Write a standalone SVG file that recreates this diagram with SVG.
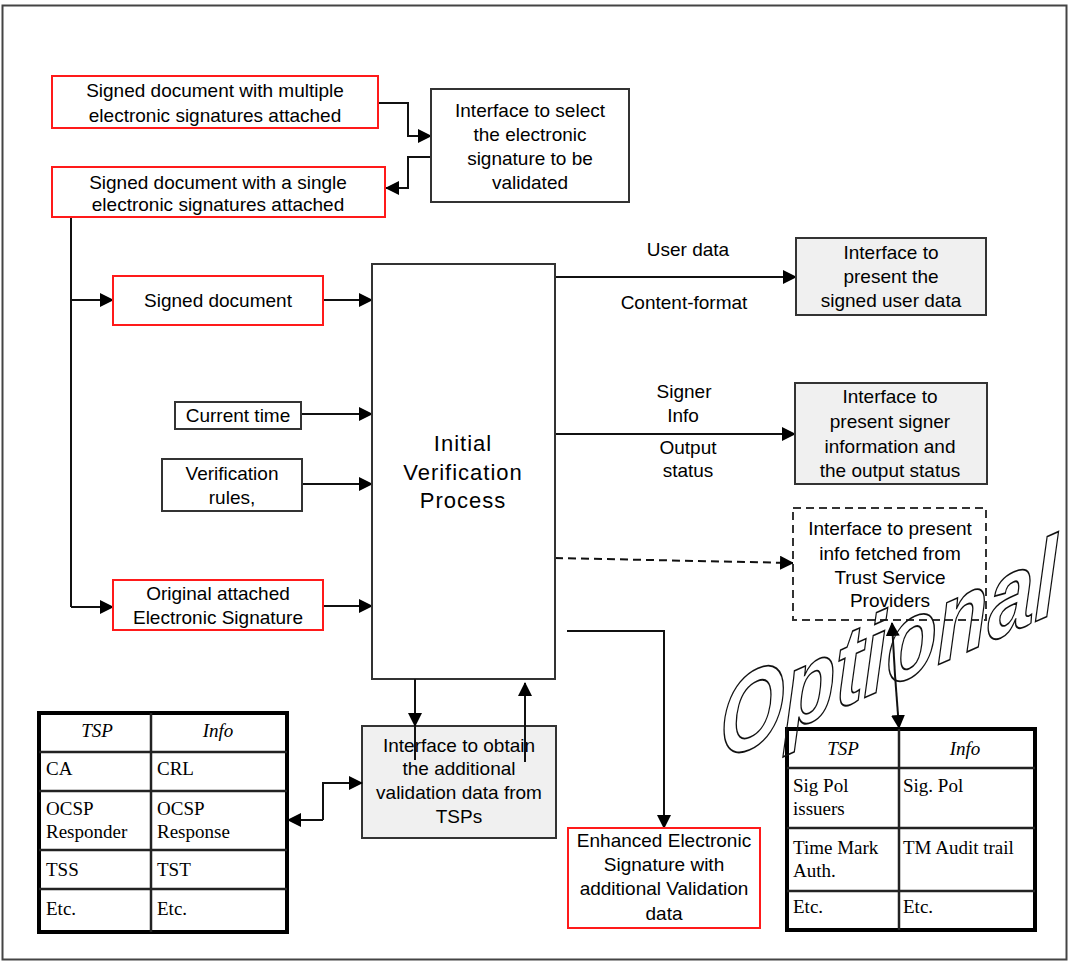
<svg xmlns="http://www.w3.org/2000/svg" width="1070" height="963" viewBox="0 0 1070 963">
<defs>
<marker id="ah" markerUnits="userSpaceOnUse" markerWidth="14" markerHeight="14" refX="13" refY="7" orient="auto-start-reverse" viewBox="0 0 14 14">
<path d="M0,0 L14,7 L0,14 z" fill="#000"/>
</marker>
</defs>
<style>
.t{font-family:"Liberation Sans",Arial,sans-serif;font-size:19px;fill:#000;text-anchor:middle}
.s{font-family:"Liberation Serif","Times New Roman",serif;font-size:19px;fill:#000}
.si{font-family:"Liberation Serif","Times New Roman",serif;font-size:19px;font-style:italic;fill:#000;text-anchor:middle}
.red{fill:#fff;stroke:#ff1a1a;stroke-width:2}
.blk{fill:#fff;stroke:#333;stroke-width:2}
.gry{fill:#f0f0f0;stroke:#333;stroke-width:2}
.dsh{fill:#fff;stroke:#333;stroke-width:2;stroke-dasharray:8 5}
.c{fill:none;stroke:#111;stroke-width:2}
.ca{fill:none;stroke:#111;stroke-width:2;marker-end:url(#ah)}
.cd{fill:none;stroke:#111;stroke-width:2;stroke-dasharray:8 5}
.tb{fill:#fff;stroke:#000;stroke-width:4}
.tl{stroke:#222;stroke-width:2.5}
</style>
<rect x="2.5" y="5.5" width="1064" height="954" fill="#fff" stroke="#444" stroke-width="2"/>

<g id="connectors">
<polyline class="ca" points="378,103 408,103 408,136 431,136"/>
<polyline class="ca" points="431,157 408,157 408,188 386,188"/>
<line class="c" x1="71" y1="217" x2="71" y2="607"/>
<line class="ca" x1="71" y1="300" x2="113" y2="300"/>
<line class="ca" x1="71" y1="607" x2="113" y2="607"/>
<line class="ca" x1="323" y1="300" x2="372" y2="300"/>
<line class="ca" x1="301" y1="414" x2="372" y2="414"/>
<line class="ca" x1="302" y1="484" x2="372" y2="484"/>
<line class="ca" x1="323" y1="606" x2="372" y2="606"/>
<line class="ca" x1="555" y1="277" x2="796" y2="277"/>
<line class="ca" x1="555" y1="434" x2="795" y2="434"/>
<line class="ca" x1="555" y1="558" x2="793" y2="563" style="stroke-dasharray:8 5"/>
<polyline class="cd" points="555,632 525,632 525,670"/>
<polyline class="ca" points="567,631 664,631 664,828"/>
</g>

<g id="n-multi"><rect class="red" x="52" y="76" width="326" height="52"/><text class="t" x="215" y="97">Signed document with multiple</text><text class="t" x="215" y="122">electronic signatures attached</text></g>
<g id="n-single"><rect class="red" x="52" y="167" width="333" height="50"/><text class="t" x="218" y="189">Signed document with a single</text><text class="t" x="218" y="211">electronic signatures attached</text></g>
<g id="n-select"><rect class="blk" x="431" y="89" width="198" height="113"/><text class="t" x="530" y="117">Interface to select</text><text class="t" x="530" y="141">the electronic</text><text class="t" x="530" y="165">signature to be</text><text class="t" x="530" y="189">validated</text></g>
<g id="n-signeddoc"><rect class="red" x="113" y="276" width="210" height="49"/><text class="t" x="218" y="307">Signed document</text></g>
<g id="n-time"><rect class="blk" x="175" y="402" width="126" height="27"/><text class="t" x="238" y="422">Current time</text></g>
<g id="n-rules"><rect class="blk" x="162" y="459" width="140" height="52"/><text class="t" x="232" y="480">Verification</text><text class="t" x="232" y="504">rules,</text></g>
<g id="n-orig"><rect class="red" x="113" y="580" width="210" height="50"/><text class="t" x="218" y="600">Original attached</text><text class="t" x="218" y="624">Electronic Signature</text></g>
<g id="n-process"><rect class="blk" x="372" y="264" width="183" height="415"/><text class="t" x="463" y="451" style="font-size:22px;letter-spacing:1px">Initial</text><text class="t" x="463" y="480" style="font-size:22px;letter-spacing:1px">Verification</text><text class="t" x="463" y="508" style="font-size:22px;letter-spacing:1px">Process</text></g>
<g id="lbl-user"><text class="t" x="688" y="256">User data</text><text class="t" x="684" y="309">Content-format</text></g>
<g id="n-userdata"><rect class="gry" x="796" y="238" width="190" height="77"/><text class="t" x="891" y="259">Interface to</text><text class="t" x="891" y="283">present the</text><text class="t" x="891" y="307">signed user data</text></g>
<g id="lbl-signer"><text class="t" x="684" y="398">Signer</text><text class="t" x="683" y="422">Info</text><text class="t" x="688" y="454">Output</text><text class="t" x="688" y="477">status</text></g>
<g id="n-signerinfo"><rect class="gry" x="795" y="383" width="192" height="101"/><text class="t" x="890" y="403">Interface to</text><text class="t" x="890" y="428">present signer</text><text class="t" x="890" y="453">information and</text><text class="t" x="890" y="477">the output status</text></g>
<g id="n-tspinfo"><rect class="dsh" x="793" y="508" width="193" height="112"/><text class="t" x="890" y="535">Interface to present</text><text class="t" x="890" y="560">info fetched from</text><text class="t" x="890" y="584">Trust Service</text><text class="t" x="890" y="607">Providers</text></g>
<g id="n-obtain"><rect class="gry" x="362" y="726" width="194" height="112"/><text class="t" x="459" y="752">Interface to obtain</text><text class="t" x="459" y="775">the additional</text><text class="t" x="459" y="799">validation data from</text><text class="t" x="459" y="823">TSPs</text></g>
<g id="n-enhanced"><rect class="red" x="568" y="828" width="192" height="100"/><text class="t" x="664" y="847">Enhanced Electronic</text><text class="t" x="664" y="871">Signature with</text><text class="t" x="664" y="895">additional Validation</text><text class="t" x="664" y="920">data</text></g>

<g id="n-table1">
<rect class="tb" x="39" y="713" width="248" height="219"/>
<line class="tl" x1="151" y1="713" x2="151" y2="932"/>
<line class="tl" x1="39" y1="752" x2="287" y2="752"/>
<line class="tl" x1="39" y1="791" x2="287" y2="791"/>
<line class="tl" x1="39" y1="850" x2="287" y2="850"/>
<line class="tl" x1="39" y1="889" x2="287" y2="889"/>
<text class="si" x="97" y="737">TSP</text><text class="si" x="218" y="737">Info</text>
<text class="s" x="46" y="775">CA</text><text class="s" x="157" y="775">CRL</text>
<text class="s" x="46" y="815">OCSP</text><text class="s" x="46" y="838">Responder</text>
<text class="s" x="157" y="815">OCSP</text><text class="s" x="157" y="838">Response</text>
<text class="s" x="46" y="876">TSS</text><text class="s" x="157" y="876">TST</text>
<text class="s" x="46" y="915">Etc.</text><text class="s" x="157" y="915">Etc.</text>
</g>

<g id="n-table2">
<rect class="tb" x="787" y="729" width="248" height="201"/>
<line class="tl" x1="899" y1="729" x2="899" y2="930"/>
<line class="tl" x1="787" y1="768" x2="1035" y2="768"/>
<line class="tl" x1="787" y1="828" x2="1035" y2="828"/>
<line class="tl" x1="787" y1="891" x2="1035" y2="891"/>
<text class="si" x="843" y="755">TSP</text><text class="si" x="965" y="755">Info</text>
<text class="s" x="793" y="792">Sig Pol</text><text class="s" x="793" y="815">issuers</text>
<text class="s" x="903" y="792">Sig. Pol</text>
<text class="s" x="793" y="854">Time Mark</text><text class="s" x="793" y="877">Auth.</text>
<text class="s" x="903" y="854">TM Audit trail</text>
<text class="s" x="793" y="913">Etc.</text><text class="s" x="903" y="913">Etc.</text>
</g>

<g id="connectors-2">
<line class="ca" x1="415" y1="679" x2="415" y2="726"/>
<line class="c" x1="415" y1="726" x2="415" y2="760"/>
<line class="ca" x1="525" y1="762" x2="525" y2="683"/>
<polyline class="ca" points="323,820 323,783 362,783"/>
<line class="ca" x1="323" y1="820" x2="288" y2="820"/>
<line class="c" x1="895" y1="675" x2="892" y2="623" style="marker-end:url(#ah)"/>
<line class="ca" x1="895" y1="675" x2="899" y2="728"/>
</g>

<g id="optional">
<text transform="translate(720,762) skewY(-24) scale(0.77,1.02)" style="font-family:'Liberation Sans',Arial,sans-serif;font-size:108px;font-weight:bold;font-style:italic;fill:none;stroke:#111;stroke-width:1.7">Optional</text>
</g>
</svg>
